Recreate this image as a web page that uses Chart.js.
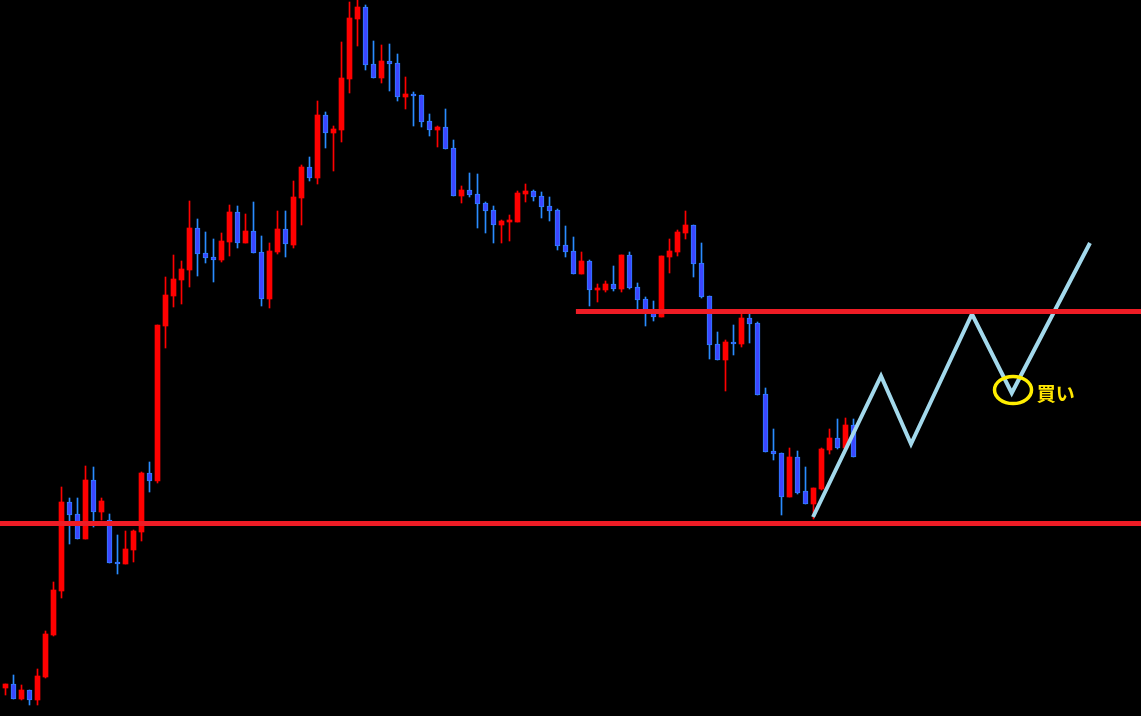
<!DOCTYPE html>
<html><head><meta charset="utf-8">
<script src="https://cdn.jsdelivr.net/npm/chart.js@4"></script>
<style>html,body{margin:0;padding:0;background:#000;overflow:hidden}canvas{display:block}</style>
</head><body>
<canvas id="c" width="1141" height="716"></canvas>
<script>
// Candle OHLC values (price units)
const opens  = [28,32,17,26,16,39,81,125,214,202,177,236,204,196,154,152,166,184,243,235,390,420,436,446,488,463,459,456,474,504,473,485,464,417,464,487,471,518,549,538,601,583,586,637,697,709,652,638,655,653,619,622,621,595,586,589,568,520,526,522,513,506,491,494,494,522,525,520,510,506,471,465,442,455,426,426,432,427,461,429,417,406,399,459,464,483,491,453,420,372,356,374,372,398,393,322,265,263,219,259,225,212,227,266,278,268,291];
const highs  = [32,41,31,26,47,85,134,229,218,218,250,249,218,202,181,185,186,244,254,391,439,461,455,515,497,484,477,483,511,510,502,514,480,473,505,505,535,551,559,615,604,590,674,714,716,711,675,671,672,662,639,624,621,602,590,607,576,530,543,542,514,510,496,501,525,532,526,524,519,507,490,479,464,456,432,435,450,461,464,433,419,415,460,477,486,505,491,473,420,384,376,391,404,402,394,328,287,263,268,265,249,228,268,287,297,298,297];
const lows   = [21,17,16,11,11,38,80,118,172,177,177,189,196,153,142,152,154,175,224,233,368,409,412,429,440,453,434,454,460,468,473,463,410,408,462,459,468,491,535,532,568,545,574,623,670,646,638,633,625,615,607,590,589,580,569,567,520,513,519,488,483,473,473,475,494,514,515,498,495,466,459,442,442,410,414,424,425,424,427,406,390,395,399,443,460,477,439,418,357,356,325,361,369,373,321,264,256,201,219,222,212,197,226,262,267,268,259];
const closes = [32,17,26,16,40,82,126,214,201,177,236,204,215,153,152,167,185,243,235,391,421,437,447,488,462,458,456,475,504,473,485,463,417,465,487,472,519,549,538,601,583,587,638,698,709,651,638,655,652,619,622,620,594,586,589,567,520,526,521,512,505,491,495,495,523,525,519,509,505,470,464,442,455,426,427,432,427,461,428,416,406,399,460,465,484,491,452,419,371,356,374,372,398,392,321,264,262,219,259,223,212,228,267,278,268,291,259];

// Horizontal levels
const supportLevel = 192.5;
const resistanceLevel = 404.5;
const resistanceStartIndex = 71.3;

// Projected zig-zag path (candle index, price)
const pathIndex = [100.94,109.44,113.19,120.81,125.78,135.56];
const pathValue = [199,340,272,402,323,473];

// Buy marker
const markIndex = 125.94;
const markValue = 326;
const markLabel = '買い';
const markLabelIndex = 128.9;
const markLabelValue = 322;

const idx = opens.map((_, i) => i);
const up = idx.map(i => closes[i] >= opens[i]);
const bodyData = idx.map(i => ({x: i, y: [Math.min(opens[i], closes[i]), Math.max(opens[i], closes[i])]}));
const wickData = idx.map(i => ({x: i, y: [lows[i], highs[i]]}));

const markPlugin = {
  id: 'mark',
  afterDatasetsDraw(chart) {
    const {ctx, scales: {x, y}} = chart;
    const cx = x.getPixelForValue(markIndex), cy = y.getPixelForValue(markValue);
    ctx.save();
    ctx.strokeStyle = '#ffee00';
    ctx.lineWidth = 3.5;
    ctx.beginPath();
    ctx.ellipse(cx, cy, 18.5, 13.5, 0, 0, Math.PI * 2);
    ctx.stroke();
    ctx.fillStyle = '#ffe600';
    ctx.font = 'bold 19px "Noto Sans CJK JP", sans-serif';
    ctx.textBaseline = 'middle';
    ctx.textAlign = 'left';
    ctx.fillText(markLabel, x.getPixelForValue(markLabelIndex), y.getPixelForValue(markLabelValue));
    ctx.restore();
  }
};

new Chart(document.getElementById('c'), {
  type: 'bar',
  data: {
    datasets: [
      {type: 'line', data: [{x: -2, y: supportLevel}, {x: 145, y: supportLevel}], borderColor: '#ee1c25', borderWidth: 5, pointRadius: 0, order: 0},
      {type: 'line', data: [{x: resistanceStartIndex, y: resistanceLevel}, {x: 145, y: resistanceLevel}], borderColor: '#ee1c25', borderWidth: 5, pointRadius: 0, order: 0},
      {type: 'line', data: pathIndex.map((v, k) => ({x: v, y: pathValue[k]})), borderColor: '#a3d9ec', borderWidth: 4, pointRadius: 0, tension: 0, order: 0},
      {type: 'bar', data: bodyData, grouped: false, barThickness: 5, minBarLength: 2, borderSkipped: false,
        backgroundColor: up.map(u => u ? '#ff0000' : '#3c46ff'),
        borderColor: up.map(u => u ? '#ff0000' : '#2f80ff'),
        borderWidth: up.map(u => u ? 0 : 1), order: 1},
      {type: 'bar', data: wickData, grouped: false, barThickness: 1, borderWidth: 0,
        backgroundColor: up.map(u => u ? '#ff0000' : '#2a8cff'), order: 2}
    ]
  },
  options: {
    responsive: false,
    animation: false,
    devicePixelRatio: 1,
    events: [],
    layout: {padding: 0},
    plugins: {legend: {display: false}, tooltip: {enabled: false}},
    scales: {
      x: {type: 'linear', display: false, min: -0.6875, max: 141.9375, offset: false},
      y: {type: 'linear', display: false, min: 0, max: 716}
    }
  },
  plugins: [markPlugin]
});
</script>
</body></html>
